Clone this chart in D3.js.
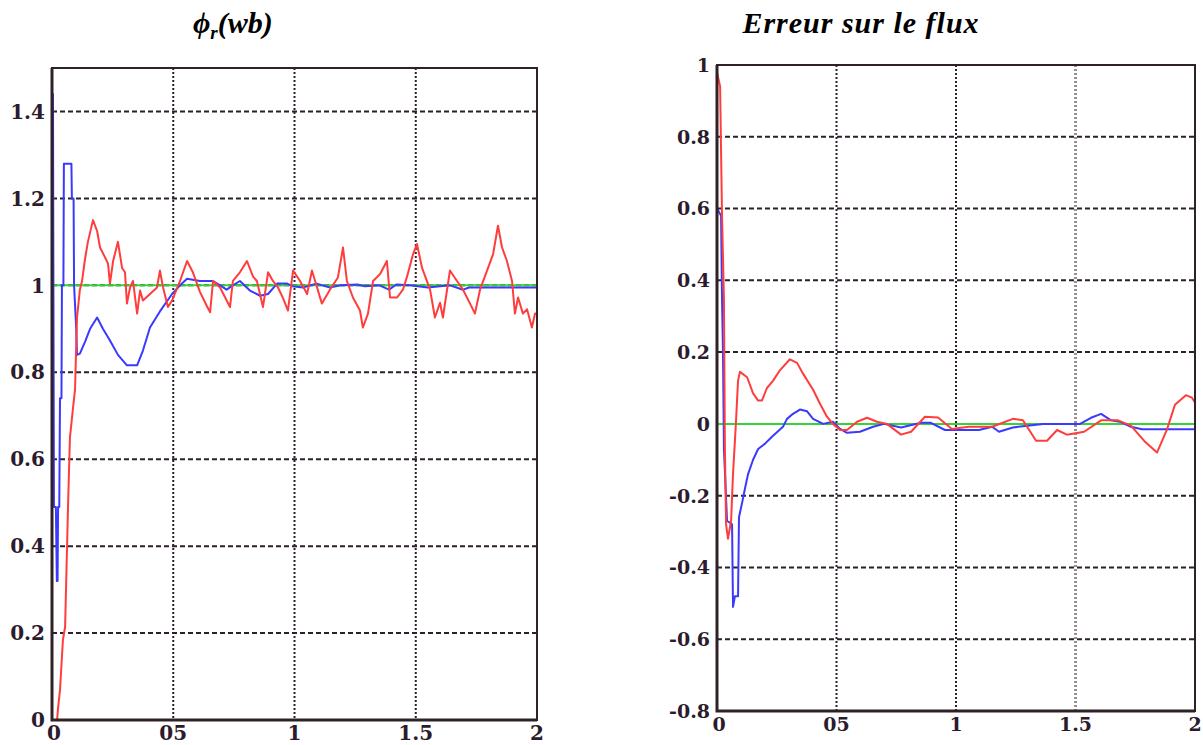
<!DOCTYPE html>
<html>
<head>
<meta charset="utf-8">
<script src="https://cdn.jsdelivr.net/npm/d3@7"></script>
<style>
  body { margin: 0; background: #fff; }
  svg { display: block; }
  .tick-label { font-family: "DejaVu Serif", serif; font-weight: bold; fill: #2b1b2d; }
  .title { font-family: "Liberation Serif", "Times New Roman", serif; font-weight: bold; font-style: italic; fill: #000; }
</style>
</head>
<body>
<svg id="chart" width="1203" height="745"></svg>
<script>
// flux rotor (left) and flux error (right), two curves + reference each

// ---- data ----
var xTicks = [0, 0.5, 1, 1.5, 2];
var xTickLabels = ["0", "05", "1", "1.5", "2"];

var fluxTicks = [0, 0.2, 0.4, 0.6, 0.8, 1, 1.2, 1.4];
var fluxTickLabels = ["0", "0.2", "0.4", "0.6", "0.8", "1", "1.2", "1.4"];

var errTicks = [-0.8, -0.6, -0.4, -0.2, 0, 0.2, 0.4, 0.6, 0.8, 1];
var errTickLabels = ["-0.8", "-0.6", "-0.4", "-0.2", "0", "0.2", "0.4", "0.6", "0.8", "1"];

// [t, value]
var fluxBlue = [
  [0, 1.44], [0.004, 1.44], [0.008, 0.49], [0.016, 0.49], [0.02, 0.32], [0.023, 0.32], [0.025, 0.49],
  [0.03, 0.49], [0.033, 0.74], [0.039, 0.74], [0.041, 1.0], [0.047, 1.0],
  [0.049, 1.28], [0.08, 1.28], [0.082, 1.2], [0.089, 1.2], [0.091, 1.0], [0.1, 0.9], [0.103, 0.84], [0.115, 0.843], [0.136, 0.87],
  [0.157, 0.9], [0.186, 0.926], [0.21, 0.9], [0.239, 0.873], [0.272, 0.84], [0.309, 0.816],
  [0.351, 0.816], [0.375, 0.85], [0.404, 0.903], [0.445, 0.94], [0.495, 0.98], [0.528, 1.0],
  [0.557, 1.015], [0.61, 1.01], [0.664, 1.01], [0.693, 1.0], [0.72, 0.99], [0.746, 1.0],
  [0.775, 1.01], [0.816, 0.988], [0.858, 0.976], [0.891, 0.98], [0.928, 1.004], [0.97, 1.004],
  [0.99, 0.998], [1.035, 0.995], [1.09, 1.004], [1.146, 0.995], [1.19, 1.0], [1.26, 1.002],
  [1.29, 0.998], [1.35, 1.0], [1.39, 0.99], [1.42, 1.002], [1.476, 1.0], [1.55, 0.995],
  [1.641, 1.0], [1.695, 0.99], [1.72, 0.995], [2.0, 0.995]
];

var fluxRed = [
  [0, 0], [0.021, 0], [0.025, 0.028], [0.033, 0.069], [0.045, 0.184], [0.054, 0.214],
  [0.066, 0.49], [0.074, 0.65], [0.087, 0.72], [0.095, 0.76], [0.103, 0.925], [0.115, 0.99],
  [0.124, 1.01], [0.136, 1.06], [0.148, 1.1], [0.169, 1.15], [0.186, 1.125], [0.198, 1.087],
  [0.219, 1.064], [0.231, 1.05], [0.239, 1.004], [0.252, 1.056], [0.272, 1.1], [0.289, 1.04],
  [0.301, 1.03], [0.309, 0.958], [0.322, 0.995], [0.334, 1.01], [0.351, 0.935], [0.363, 0.988],
  [0.375, 0.965], [0.404, 0.98], [0.433, 0.995], [0.445, 1.034], [0.458, 0.995], [0.478, 0.95],
  [0.495, 0.965], [0.528, 1.01], [0.557, 1.056], [0.581, 1.03], [0.61, 0.985], [0.639, 0.952],
  [0.652, 0.938], [0.664, 1.01], [0.693, 0.995], [0.734, 0.95], [0.746, 1.01], [0.775, 1.03],
  [0.804, 1.056], [0.829, 1.02], [0.845, 1.01], [0.87, 0.95], [0.891, 1.03], [0.911, 1.01],
  [0.932, 0.995], [0.953, 0.97], [0.973, 0.942], [0.994, 1.034], [1.023, 1.01], [1.052, 0.98],
  [1.072, 1.034], [1.085, 1.01], [1.113, 0.958], [1.146, 0.99], [1.179, 1.018], [1.2, 1.087],
  [1.216, 1.01], [1.241, 0.972], [1.27, 0.942], [1.282, 0.903], [1.303, 0.935], [1.324, 1.01],
  [1.353, 1.026], [1.381, 1.056], [1.394, 0.972], [1.423, 0.972], [1.447, 0.99], [1.464, 1.02],
  [1.489, 1.072], [1.505, 1.095], [1.526, 1.04], [1.559, 0.99], [1.579, 0.926], [1.6, 0.96],
  [1.612, 0.926], [1.641, 1.034], [1.67, 1.01], [1.695, 0.99], [1.724, 0.958], [1.744, 0.935],
  [1.765, 0.99], [1.794, 1.034], [1.819, 1.072], [1.839, 1.137], [1.856, 1.087], [1.876, 1.056],
  [1.897, 1.01], [1.909, 0.935], [1.922, 0.972], [1.942, 0.935], [1.959, 0.945], [1.979, 0.903],
  [1.992, 0.935], [2.0, 0.935]
];

var fluxRef = [[0, 1], [2, 1]];

var errBlue = [
  [0, 0.6], [0.017, 0.58], [0.021, 0.35], [0.025, 0.2], [0.029, -0.07], [0.042, -0.27],
  [0.063, -0.28], [0.067, -0.51], [0.075, -0.48], [0.088, -0.48], [0.092, -0.26], [0.105, -0.22],
  [0.117, -0.18], [0.13, -0.14], [0.151, -0.1], [0.172, -0.07], [0.201, -0.055], [0.23, -0.036],
  [0.276, -0.008], [0.293, 0.014], [0.318, 0.028], [0.347, 0.04], [0.377, 0.035], [0.402, 0.014],
  [0.444, 0], [0.485, 0.006], [0.515, -0.014], [0.544, -0.025], [0.598, -0.022], [0.653, -0.008],
  [0.699, 0], [0.77, -0.01], [0.854, 0.003], [0.895, 0.003], [0.954, -0.017], [1.096, -0.017],
  [1.151, -0.008], [1.18, -0.022], [1.238, -0.01], [1.364, 0], [1.519, 0], [1.565, 0.017],
  [1.607, 0.028], [1.649, 0.01], [1.69, 0.005], [1.732, -0.008], [1.778, -0.015], [2.0, -0.015]
];

var errRed = [
  [0, 0.98], [0.013, 0.94], [0.021, 0.58], [0.029, 0.35], [0.033, -0.065], [0.038, -0.28],
  [0.046, -0.32], [0.059, -0.27], [0.067, -0.14], [0.079, 0], [0.088, 0.12], [0.096, 0.145],
  [0.126, 0.13], [0.151, 0.085], [0.172, 0.065], [0.188, 0.065], [0.209, 0.1], [0.234, 0.12],
  [0.264, 0.15], [0.305, 0.18], [0.335, 0.17], [0.36, 0.14], [0.402, 0.095], [0.431, 0.056],
  [0.46, 0.02], [0.485, 0], [0.515, -0.017], [0.544, -0.017], [0.586, 0.006], [0.628, 0.017],
  [0.669, 0.006], [0.711, 0], [0.77, -0.03], [0.812, -0.022], [0.87, 0.02], [0.925, 0.018],
  [0.983, -0.014], [1.054, -0.008], [1.151, -0.008], [1.238, 0.014], [1.28, 0.01], [1.335, -0.047],
  [1.381, -0.047], [1.423, -0.017], [1.464, -0.03], [1.536, -0.022], [1.607, 0.01], [1.678, 0.01],
  [1.732, -0.005], [1.791, -0.05], [1.841, -0.08], [1.883, -0.015], [1.916, 0.053], [1.962, 0.08],
  [1.987, 0.073], [2.0, 0.06]
];

var errRef = [[0, 0], [2, 0]];

// ---- layout ----
var svg = d3.select('#chart');

var GRID = '#2d1f2d';
var FRAME = '#2e2226';

function drawPanel(p) {
  var x = d3.scaleLinear().domain([0, 2]).range([p.left, p.right]);
  var y = d3.scaleLinear().domain(p.yDomain).range([p.bottom, p.top]);
  var g = svg.append('g');

  // horizontal grid (dashed)
  g.selectAll('.hgrid')
    .data(p.yTicks.filter(function (d) { return d > p.yDomain[0] && d < p.yDomain[1]; }))
    .enter().append('line')
    .attr('x1', p.left).attr('x2', p.right)
    .attr('y1', function (d) { return y(d); })
    .attr('y2', function (d) { return y(d); })
    .attr('stroke', GRID).attr('stroke-width', 2)
    .attr('stroke-dasharray', '5,3');

  // vertical grid (dotted)
  g.selectAll('.vgrid')
    .data(xTicks.filter(function (d) { return d > 0 && d < 2; }))
    .enter().append('line')
    .attr('x1', function (d) { return x(d); })
    .attr('x2', function (d) { return x(d); })
    .attr('y1', p.top).attr('y2', p.bottom)
    .attr('stroke', function (d) { return p.greyAt === d ? '#959095' : GRID; })
    .attr('stroke-width', function (d) { return p.greyAt === d ? 3 : 2; })
    .attr('stroke-dasharray', '2,2');

  var line = d3.line()
    .x(function (d) { return x(d[0]); })
    .y(function (d) { return y(d[1]); });

  var clipId = 'clip-' + p.name;
  svg.append('defs').append('clipPath').attr('id', clipId)
    .append('rect')
    .attr('x', p.left).attr('y', p.top - 2)
    .attr('width', p.right - p.left).attr('height', p.bottom - p.top + 2);

  var curves = g.append('g').attr('clip-path', 'url(#' + clipId + ')');
  curves.append('path').datum(p.ref)
    .attr('d', line).attr('fill', 'none')
    .attr('stroke', '#35d335').attr('stroke-width', 2);
  curves.append('path').datum(p.blue)
    .attr('d', line).attr('fill', 'none')
    .attr('stroke', '#3a3aff').attr('stroke-width', 2)
    .attr('stroke-linejoin', 'round');
  curves.append('path').datum(p.red)
    .attr('d', line).attr('fill', 'none')
    .attr('stroke', '#ff3d3d').attr('stroke-width', 2)
    .attr('stroke-linejoin', 'round');

  // frame
  g.append('rect')
    .attr('x', p.left).attr('y', p.top)
    .attr('width', p.right - p.left).attr('height', p.bottom - p.top)
    .attr('fill', 'none').attr('stroke', FRAME).attr('stroke-width', 2);
  g.append('path')
    .attr('d', 'M' + p.left + ',' + p.top + 'V' + p.bottom + 'H' + p.right)
    .attr('fill', 'none').attr('stroke', FRAME).attr('stroke-width', 3);

  // y tick labels
  g.selectAll('.ylab')
    .data(p.yTicks)
    .enter().append('text')
    .attr('class', 'tick-label')
    .attr('x', p.left - 7)
    .attr('y', function (d) { return y(d); })
    .attr('dy', '0.36em')
    .attr('text-anchor', 'end')
    .style('font-size', p.fontSize + 'px')
    .text(function (d, i) { return p.yLabels[i]; });

  // x tick labels
  g.selectAll('.xlab')
    .data(xTicks)
    .enter().append('text')
    .attr('class', 'tick-label')
    .attr('x', function (d) { return x(d) + (d === 0 ? 2 : 0); })
    .attr('y', p.xLabelY)
    .attr('text-anchor', 'middle')
    .style('font-size', p.fontSize + 'px')
    .text(function (d, i) { return xTickLabels[i]; });
}

drawPanel({
  name: 'flux', left: 52, right: 537, top: 68, bottom: 720,
  yDomain: [0, 1.5], yTicks: fluxTicks, yLabels: fluxTickLabels,
  blue: fluxBlue, red: fluxRed, ref: fluxRef,
  xLabelY: 740, fontSize: 20, greyAt: null
});

drawPanel({
  name: 'err', left: 717, right: 1195, top: 65, bottom: 711,
  yDomain: [-0.8, 1], yTicks: errTicks, yLabels: errTickLabels,
  blue: errBlue, red: errRed, ref: errRef,
  xLabelY: 731, fontSize: 19, greyAt: 1.5
});

// titles
var t1 = svg.append('text').attr('class', 'title')
  .attr('x', 193).attr('y', 33)
  .style('font-size', '30px');
t1.append('tspan').text('\u03D5');
t1.append('tspan').attr('dy', 6).style('font-size', '19px').text('r');
t1.append('tspan').attr('dy', -6).text('(wb)');

svg.append('text').attr('class', 'title')
  .attr('x', 861).attr('y', 33)
  .attr('text-anchor', 'middle')
  .style('font-size', '30px')
  .style('letter-spacing', '1px')
  .text('Erreur sur le flux');
</script>
</body>
</html>
